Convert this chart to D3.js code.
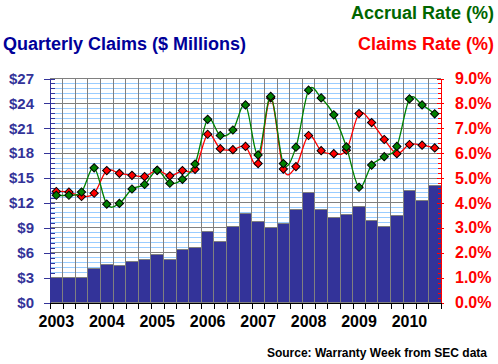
<!DOCTYPE html>
<html lang="en">
	<head>
		<meta charset="utf-8">
		<title>Quarterly Claims, Claims Rate and Accrual Rate</title>
		<style>
			body { margin: 0; background: #fff; }
			svg { display: block; font-family: Arial, "Liberation Sans", sans-serif; font-weight: bold; }
		</style>
	</head>
	<body>
		<div id="chart"></div>

		<script src="https://d3js.org/d3.v7.js"></script>
		<script>

			// quarters 2003Q1 .. 2010Q3
			var quarters = ["2003Q1","2003Q2","2003Q3","2003Q4","2004Q1","2004Q2","2004Q3","2004Q4",
				"2005Q1","2005Q2","2005Q3","2005Q4","2006Q1","2006Q2","2006Q3","2006Q4",
				"2007Q1","2007Q2","2007Q3","2007Q4","2008Q1","2008Q2","2008Q3","2008Q4",
				"2009Q1","2009Q2","2009Q3","2009Q4","2010Q1","2010Q2","2010Q3"]
			var yearLabels = ["2003","2004","2005","2006","2007","2008","2009","2010"]

			// quarterly claims, $ millions
			var claims = [3.0, 3.0, 3.0, 4.1, 4.6, 4.45, 5.0, 5.2,
				5.8, 5.2, 6.4, 6.6, 8.6, 7.4, 9.2, 10.7,
				9.8, 9.0, 9.55, 11.2, 13.25, 11.2, 10.2, 10.6,
				11.6, 9.9, 9.2, 10.5, 13.5, 12.3, 14.1]

			// accrual rate, %
			var accrualRate = [4.31, 4.31, 4.44, 5.41, 3.95, 3.98, 4.56, 4.74,
				5.31, 4.79, 4.95, 5.56, 7.36, 6.71, 6.93, 7.94,
				5.93, 8.28, 5.58, 6.24, 8.53, 8.22, 7.54, 6.25,
				4.63, 5.52, 5.86, 6.27, 8.18, 7.94, 7.58]

			// claims rate, %
			var claimsRate = [4.46, 4.44, 4.26, 4.39, 5.30, 5.19, 5.11, 5.06,
				5.31, 5.09, 5.30, 5.35, 6.76, 6.18, 6.14, 6.27,
				5.58, 8.22, 5.36, 5.46, 6.71, 6.10, 5.98, 6.12,
				7.59, 7.23, 6.55, 5.98, 6.35, 6.32, 6.21]

			var leftTicks = [0, 3, 6, 9, 12, 15, 18, 21, 24, 27]
			var rightTicks = [0, 1, 2, 3, 4, 5, 6, 7, 8, 9]

			var W = 498, H = 364
			var pL = 50, pR = 441, pT = 78.5, pB = 302.5

			var svg = d3.select("#chart").append("svg")
				.attr("width", W).attr("height", H)

			var x = d3.scaleBand().domain(quarters).range([pL, pR]).padding(0)
			var xi = d3.scaleLinear().domain([0, quarters.length]).range([pL, pR])
			var yL = d3.scaleLinear().domain([0, 27]).range([pB, pT])
			var yR = d3.scaleLinear().domain([0, 9]).range([pB, pT])

			var minorL = d3.range(0, 46).map(function(i) { return +(i * 0.6).toFixed(1) })
			var minorR = d3.range(0, 46).map(function(i) { return +(i * 0.2).toFixed(1) })

			// grid
			var grid = svg.append("g").attr("shape-rendering", "crispEdges")
			grid.selectAll("line.minor").data(minorL).enter().append("line")
				.attr("x1", pL).attr("x2", pR)
				.attr("y1", function(d) { return yL(d) }).attr("y2", function(d) { return yL(d) })
				.attr("stroke", "#99ccff")
			grid.selectAll("line.major").data(leftTicks).enter().append("line")
				.attr("x1", pL).attr("x2", pR)
				.attr("y1", function(d) { return yL(d) }).attr("y2", function(d) { return yL(d) })
				.attr("stroke", "#808080")
			grid.selectAll("line.vert").data(d3.range(0, quarters.length + 1)).enter().append("line")
				.attr("x1", function(d) { return xi(d) }).attr("x2", function(d) { return xi(d) })
				.attr("y1", pT).attr("y2", pB)
				.attr("stroke", "#808080")

			// bars
			svg.append("g").attr("shape-rendering", "crispEdges")
				.selectAll("rect").data(claims).enter().append("rect")
				.attr("x", function(d, i) { return x(quarters[i]) })
				.attr("y", function(d) { return yL(d) })
				.attr("width", x.bandwidth())
				.attr("height", function(d) { return pB - yL(d) })
				.attr("fill", "#333399")
				.attr("stroke", "#808080")

			// left axis: major ticks outside with labels, minor ticks inside
			var axL = svg.append("g").attr("transform", "translate(" + pL + ",0)")
				.call(d3.axisLeft(yL).tickValues(leftTicks).tickSize(6).tickPadding(10)
					.tickFormat(function(d) { return "$" + d }))
			var axLm = svg.append("g").attr("transform", "translate(" + pL + ",0)")
				.call(d3.axisRight(yL).tickValues(minorL).tickSize(5).tickFormat("").tickSizeOuter(0))
			axLm.select(".domain").remove()
			axL.selectAll("line, path").attr("stroke", "#333399").attr("shape-rendering", "crispEdges")
			axLm.selectAll("line").attr("stroke", "#333399").attr("shape-rendering", "crispEdges")
			axL.selectAll("text").attr("fill", "#333399").style("font-size", "15px").style("font-weight", "bold")

			// right axis
			var axR = svg.append("g").attr("transform", "translate(" + pR + ",0)")
				.call(d3.axisRight(yR).tickValues(rightTicks).tickSize(3).tickPadding(11)
					.tickFormat(function(d) { return d.toFixed(1) + "%" }))
			var axRm = svg.append("g").attr("transform", "translate(" + pR + ",0)")
				.call(d3.axisLeft(yR).tickValues(minorR).tickSize(3).tickFormat("").tickSizeOuter(0))
			var axRM = svg.append("g").attr("transform", "translate(" + pR + ",0)")
				.call(d3.axisLeft(yR).tickValues(rightTicks).tickSize(4.5).tickFormat("").tickSizeOuter(0))
			axRm.select(".domain").remove()
			axRM.select(".domain").remove()
			axR.selectAll("line, path").attr("stroke", "#ff0000").attr("shape-rendering", "crispEdges")
			axRm.selectAll("line").attr("stroke", "#ff0000").attr("shape-rendering", "crispEdges")
			axRM.selectAll("line").attr("stroke", "#ff0000").attr("shape-rendering", "crispEdges")
			axR.selectAll("text").attr("fill", "#ff0000").style("font-size", "16px").style("font-weight", "bold")

			// bottom axis
			var axB = svg.append("g").attr("transform", "translate(0," + pB + ")")
				.call(d3.axisBottom(xi).tickValues(d3.range(0, quarters.length + 1)).tickSize(6).tickFormat("").tickSizeOuter(0))
			axB.selectAll("line, path").attr("stroke", "#000").attr("shape-rendering", "crispEdges")

			svg.append("g").selectAll("text").data(yearLabels).enter().append("text")
				.attr("x", function(d) { return x(d + "Q1") + x.bandwidth() / 2 })
				.attr("y", 326.5)
				.attr("text-anchor", "middle")
				.style("font-size", "16px")
				.attr("fill", "#000")
				.text(function(d) { return d })

			// rate lines
			var line = d3.line()
				.x(function(d, i) { return x(quarters[i]) + x.bandwidth() / 2 })
				.y(function(d) { return yR(d) })
				.curve(d3.curveCardinal.tension(0))

			var diamond = d3.symbol().type(d3.symbolSquare).size(34)

			function drawSeries(data, color) {
				svg.append("path").datum(data)
					.attr("d", line)
					.attr("fill", "none")
					.attr("stroke", color)
					.attr("stroke-width", 1.3)
				svg.append("g").selectAll("path").data(data).enter().append("path")
					.attr("d", diamond)
					.attr("transform", function(d, i) {
						return "translate(" + (x(quarters[i]) + x.bandwidth() / 2) + "," + yR(d) + ") rotate(45)"
					})
					.attr("fill", color)
					.attr("stroke", "#000")
					.attr("stroke-width", 1)
			}
			drawSeries(claimsRate, "#ff0000")
			drawSeries(accrualRate, "#008000")

			// titles
			svg.append("text").attr("x", 494).attr("y", 19).attr("text-anchor", "end")
				.style("font-size", "18px").attr("fill", "#006600").text("Accrual Rate (%)")
			svg.append("text").attr("x", 494).attr("y", 50).attr("text-anchor", "end")
				.style("font-size", "18px").attr("fill", "#ff0000").text("Claims Rate (%)")
			svg.append("text").attr("x", 3).attr("y", 50)
				.style("font-size", "18px").attr("fill", "#000099").text("Quarterly Claims ($ Millions)")
			svg.append("text").attr("x", 487).attr("y", 356.5).attr("text-anchor", "end")
				.style("font-size", "12px").attr("fill", "#000").text("Source: Warranty Week from SEC data")

		</script>
	</body>
</html>
